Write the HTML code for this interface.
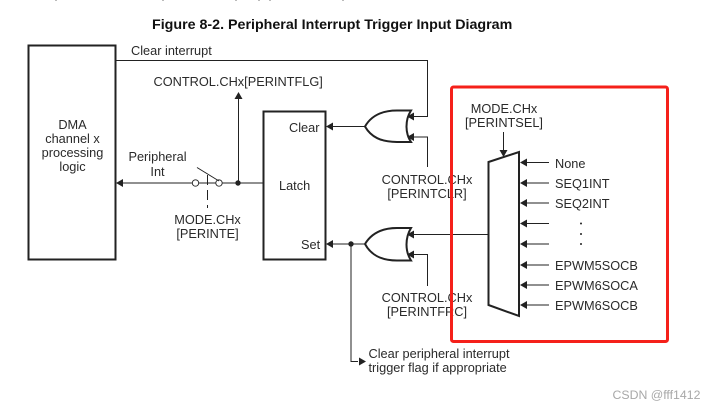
<!DOCTYPE html>
<html><head><meta charset="utf-8">
<style>
html,body{margin:0;padding:0;background:#fff}
svg{display:block;filter:blur(.3px)}
text{font-family:"Liberation Sans",sans-serif;font-size:12.75px;fill:#2a2a2a}
.m{text-anchor:middle}
.t{stroke:#222;stroke-width:2;fill:none}
.l{stroke:#222;stroke-width:1;fill:none}
.a{fill:#222;stroke:none}
</style></head><body>
<svg width="711" height="408" viewBox="0 0 711 408" xmlns="http://www.w3.org/2000/svg">
<rect width="711" height="408" fill="#fff"/>
<path d="M56 0v1M163 0v1M270 0v1M236 0v1M259 0v1M343 0v1" stroke="#777" stroke-width="1"/>
<text x="152" y="29" style="font-weight:bold;font-size:14.25px;fill:#111">Figure 8-2. Peripheral Interrupt Trigger Input Diagram</text>

<rect class="t" x="28.500" y="45.500" width="87" height="214"/>
<text class="m" x="72.500" y="129">DMA</text>
<text class="m" x="72.500" y="143">channel x</text>
<text class="m" x="72.500" y="157">processing</text>
<text class="m" x="72.500" y="171">logic</text>

<text x="131" y="55">Clear interrupt</text>
<path class="l" d="M116 60.500H427.500V116.500H410"/>
<text x="153.500" y="86">CONTROL.CHx[PERINTFLG]</text>
<path class="l" d="M238.500 183V97"/>
<path class="a" d="M238.500 92l-4 7h8z"/>

<rect class="t" x="263.500" y="111.500" width="62" height="148"/>
<text x="289" y="132">Clear</text>
<text x="279" y="190">Latch</text>
<text x="301" y="249">Set</text>

<text class="m" x="157.500" y="161">Peripheral</text>
<text class="m" x="157.500" y="176">Int</text>
<path class="l" d="M120 183H192M199 183H238M238 183H263"/>
<path class="a" d="M116 183l7-4v8z"/>
<circle cx="195.500" cy="183" r="3.200" fill="#fff" stroke="#222" stroke-width="0.900"/>
<circle cx="219" cy="183" r="3.200" fill="#fff" stroke="#222" stroke-width="0.900"/>
<path class="l" d="M197 167.500L219 181"/>
<path class="l" d="M207.500 175V208" stroke-dasharray="10 5"/>
<circle class="a" cx="238" cy="183" r="2.700"/>
<text class="m" x="207.500" y="224">MODE.CHx</text>
<text class="m" x="207.500" y="238">[PERINTE]</text>

<!-- upper OR gate -->
<path d="M365 126.500C371 116 381 110.500 397 110.500H411C405 120 405 133 411 142H397C381 142 371 137 365 126.500Z" fill="#fff" stroke="#222" stroke-width="2"/>
<path class="l" d="M365 126.500H331"/>
<path class="a" d="M326 126.500l7-4v8z"/>
<path class="a" d="M407 116.500l7-4v8z"/>
<path class="l" d="M411 137H427.500V167"/>
<path class="a" d="M407 137l7-4v8z"/>
<text class="m" x="427" y="184">CONTROL.CHx</text>
<text class="m" x="427" y="198">[PERINTCLR]</text>

<!-- lower OR gate -->
<path d="M365 244C371 234 381 228 397 228H411C405 238 405 251 411 260.500H397C381 260.500 371 255 365 244Z" fill="#fff" stroke="#222" stroke-width="2"/>
<path class="l" d="M365 244H331"/>
<path class="a" d="M326 244l7-4v8z"/>
<circle class="a" cx="351" cy="244" r="2.700"/>
<path class="l" d="M351 244V361.500H358"/>
<path class="a" d="M366 361.500l-7-4v8z"/>
<path class="l" d="M488 234.500H411"/>
<path class="a" d="M407 234.500l7-4v8z"/>
<path class="l" d="M411 254.500H427.500V286"/>
<path class="a" d="M407 254.500l7-4v8z"/>
<text class="m" x="427" y="302">CONTROL.CHx</text>
<text class="m" x="427" y="316">[PERINTFRC]</text>

<text x="368.500" y="358">Clear peripheral interrupt</text>
<text x="368.500" y="372">trigger flag if appropriate</text>

<!-- red frame -->
<rect x="451.500" y="87" width="216" height="254.500" rx="2" fill="none" stroke="#f5201a" stroke-width="3"/>

<!-- mux -->
<text class="m" x="504" y="113">MODE.CHx</text>
<text class="m" x="504" y="127">[PERINTSEL]</text>
<path class="l" d="M503.500 132V151"/>
<path class="a" d="M503.500 157l-4-7h8z"/>
<path class="t" d="M488.500 162L519 152V316L488.500 305Z" fill="#fff"/>
<g>
<path class="l" d="M524 162.500H549M524 183H549M524 203H549M524 223.500H549M524 244H549M524 265H549M524 285H549M524 305H549"/>
<path class="a" d="M520 162.500l7-4v8zM520 183l7-4v8zM520 203l7-4v8zM520 223.500l7-4v8zM520 244l7-4v8zM520 265l7-4v8zM520 285l7-4v8zM520 305l7-4v8z"/>
</g>
<text x="555" y="168">None</text>
<text x="555" y="188">SEQ1INT</text>
<text x="555" y="208">SEQ2INT</text>
<circle class="a" cx="581" cy="223.500" r="1"/>
<circle class="a" cx="581" cy="234" r="1"/>
<circle class="a" cx="581" cy="244" r="1"/>
<text x="555" y="270">EPWM5SOCB</text>
<text x="555" y="290">EPWM6SOCA</text>
<text x="555" y="310">EPWM6SOCB</text>

<text x="612.500" y="399" style="font-size:12.300px;fill:#a8a8a8">CSDN @fff1412</text>
</svg>
</body></html>
